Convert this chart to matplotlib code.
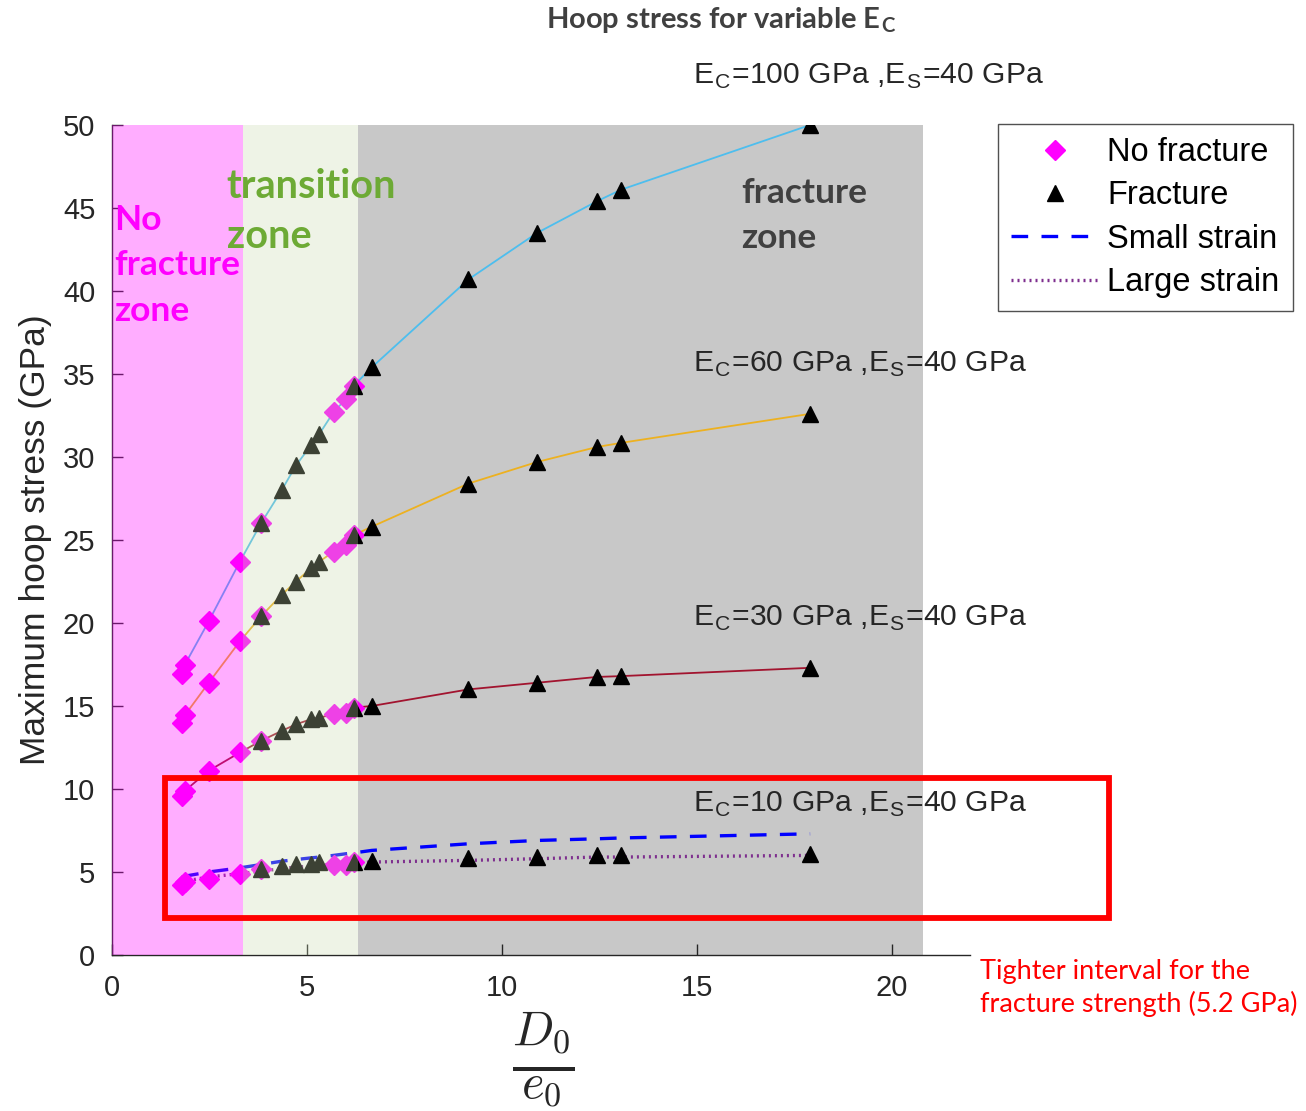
import matplotlib
matplotlib.use("Agg")
import matplotlib.pyplot as plt
from matplotlib.lines import Line2D
from matplotlib.patches import Rectangle

plt.rcParams['font.family'] = ['Liberation Sans', 'DejaVu Sans']
plt.rcParams['mathtext.fontset'] = 'cm'

# ---------------- data ----------------
x_ratio = [1.80, 1.87, 2.48, 3.28, 3.82, 4.35, 4.72, 5.10, 5.32, 5.68, 6.00,
           6.20, 6.66, 9.14, 10.90, 12.43, 13.05, 17.90]
# 0 = no fracture, 1 = fracture, 2 = both markers
fracture_flag = [0, 0, 0, 0, 2, 1, 1, 1, 1, 0, 0, 2, 1, 1, 1, 1, 1, 1]

stress_ec100 = [16.9, 17.5, 20.1, 23.7, 26.0, 28.0, 29.5, 30.7, 31.4, 32.7, 33.5,
                34.3, 35.4, 40.7, 43.5, 45.4, 46.1, 50.0]
stress_ec60 = [14.0, 14.45, 16.4, 18.9, 20.4, 21.7, 22.5, 23.3, 23.7, 24.3, 24.7,
               25.3, 25.8, 28.4, 29.7, 30.6, 30.85, 32.6]
stress_ec30 = [9.6, 9.9, 11.1, 12.2, 12.9, 13.5, 13.9, 14.2, 14.3, 14.5, 14.6,
               14.9, 15.0, 16.0, 16.4, 16.75, 16.8, 17.3]
stress_ec10 = [4.2, 4.4, 4.6, 4.9, 5.2, 5.35, 5.5, 5.5, 5.6, 5.4, 5.4,
               5.6, 5.65, 5.85, 5.9, 6.0, 6.0, 6.1]
small_strain_ec10 = [4.7, 4.75, 5.0, 5.25, 5.45, 5.65, 5.75, 5.85, 5.9, 6.0, 6.1,
                     6.15, 6.3, 6.7, 6.9, 7.0, 7.05, 7.3]
large_strain_ec10 = [4.4, 4.45, 4.7, 4.9, 5.05, 5.2, 5.3, 5.35, 5.4, 5.45, 5.5,
                     5.55, 5.6, 5.7, 5.8, 5.9, 5.9, 6.0]

series_labels = ['E$_\\mathregular{C}$=100 GPa ,E$_\\mathregular{S}$=40 GPa',
                 'E$_\\mathregular{C}$=60 GPa ,E$_\\mathregular{S}$=40 GPa',
                 'E$_\\mathregular{C}$=30 GPa ,E$_\\mathregular{S}$=40 GPa',
                 'E$_\\mathregular{C}$=10 GPa ,E$_\\mathregular{S}$=40 GPa']
label_y = [52.95, 35.6, 20.3, 9.1]

zone_edges = [0.0, 3.35, 6.3, 20.8]
legend_labels = ['No fracture', 'Fracture', 'Small strain', 'Large strain']

# ---------------- figure ----------------
W, H = 1306, 1111
fig = plt.figure(figsize=(W / 100, H / 100), dpi=100)
ax = fig.add_axes([112 / W, 1 - 955 / H, (970 - 112) / W, (955 - 125) / H])
ax.set_xlim(0, 22)
ax.set_ylim(0, 50)

# gray fracture zone (behind)
ax.add_patch(Rectangle((zone_edges[2], 0), zone_edges[3] - zone_edges[2], 50,
                       facecolor='#C8C8C8', edgecolor='none', zorder=0))

line_colors = ['#4DBEEE', '#EDB120', '#A2142F']
for ys, c in zip([stress_ec100, stress_ec60, stress_ec30], line_colors):
    ax.plot(x_ratio, ys, color=c, lw=1.3, zorder=2)

ax.plot(x_ratio, small_strain_ec10, color='#0000FF', lw=2.4, ls=(0, (5, 4)), zorder=2)
ax.plot(x_ratio, large_strain_ec10, color='#7E2F8E', lw=2.4, ls=(0, (0.6, 1.2)), zorder=2)

for ys in [stress_ec100, stress_ec60, stress_ec30, stress_ec10]:
    nx = [x for x, f in zip(x_ratio, fracture_flag) if f in (0, 2)]
    ny = [y for y, f in zip(ys, fracture_flag) if f in (0, 2)]
    fx = [x for x, f in zip(x_ratio, fracture_flag) if f in (1, 2)]
    fy = [y for y, f in zip(ys, fracture_flag) if f in (1, 2)]
    ax.plot(nx, ny, ls='none', marker='D', ms=10, color='#FF00FF', mec='#FF00FF', zorder=3)
    ax.plot(fx, fy, ls='none', marker='^', ms=12, color='black', mec='black', zorder=3)

# translucent zones on top
ax.add_patch(Rectangle((zone_edges[0], 0), zone_edges[1] - zone_edges[0], 50,
                       facecolor='#FF00FF', alpha=0.32, edgecolor='none', zorder=4,
                       clip_on=False))
ax.add_patch(Rectangle((zone_edges[1], 0), zone_edges[2] - zone_edges[1], 50,
                       facecolor='#C8D9AD', alpha=0.3, edgecolor='none', zorder=4))

# zone texts (one line each)
zfont = ['Lato', 'DejaVu Sans']
def ytxt(py):
    return (955 - py) / 16.6
def xtxt(px):
    return (px - 112) / 39.05

for txt, py in zip(['No', 'fracture', 'zone'], [220, 265, 311]):
    ax.text(xtxt(114), ytxt(py), txt, color='#FF00FF', fontsize=25.5, fontweight='bold',
            family=zfont, va='center', ha='left', zorder=6)
for txt, py in zip(['transition', 'zone'], [186, 237]):
    ax.text(xtxt(227), ytxt(py), txt, color='#6DAA35', fontsize=28.5, fontweight='bold',
            family=zfont, va='center', ha='left', zorder=6)
for txt, py in zip(['fracture', 'zone'], [193, 238]):
    ax.text(xtxt(742), ytxt(py), txt, color='#404040', fontsize=25.5, fontweight='bold',
            family=zfont, va='center', ha='left', zorder=6)

# series annotations
for lab, yy in zip(series_labels, label_y):
    ax.text(14.9, yy, lab, fontsize=21.7, color='#262626', ha='left', va='center',
            zorder=6, clip_on=False)

# red rectangle
ax.add_patch(Rectangle((1.36, 2.23), 25.56 - 1.36, 10.66 - 2.23, facecolor='none',
                       edgecolor='#FF0000', lw=4.2, zorder=7, clip_on=False))

# axes styling
for s in ['top', 'right']:
    ax.spines[s].set_visible(False)
for s in ['left', 'bottom']:
    ax.spines[s].set_color('#262626')
    ax.spines[s].set_linewidth(1.0)
ax.set_xticks([0, 5, 10, 15, 20])
ax.set_yticks(range(0, 51, 5))
ax.tick_params(direction='in', length=8, width=1, labelsize=21, colors='#262626')
ax.tick_params(axis='x', pad=14)
ax.tick_params(axis='y', pad=12)
ax.set_ylabel('Maximum hoop stress (GPa)', fontsize=25.5, color='#262626', labelpad=8)

# x label (fraction)
fig.text(543 / W, 1 - 1010 / H, r'$\frac{D_0}{e_0}$', fontsize=50, ha='center', va='top',
         color='#262626')

# title
fig.text(721 / W, 1 - 20 / H, 'Hoop stress for variable E$_\\mathregular{C}$', fontsize=21,
         fontweight='bold', family=zfont, color='#404040', ha='center', va='center')

# red note
fig.text(980 / W, 1 - 988 / H, 'Tighter interval for the\nfracture strength (5.2 GPa)',
         fontsize=19.5, family=zfont, color='#FF0000', ha='left', va='center', linespacing=1.3)

# legend
handles = [Line2D([], [], ls='none', marker='D', ms=10, color='#FF00FF'),
           Line2D([], [], ls='none', marker='^', ms=12, color='black'),
           Line2D([], [], color='#0000FF', lw=2.4, ls=(0, (5, 4))),
           Line2D([], [], color='#7E2F8E', lw=2.4, ls=(0, (0.6, 1.2)))]
leg = fig.legend(handles, legend_labels, loc='upper left',
                 bbox_to_anchor=(998 / W, 1 - 124 / H), fontsize=23.5, frameon=True,
                 fancybox=False, edgecolor='#262626', handlelength=2.7, handletextpad=0.25,
                 labelspacing=0.38, borderpad=0.4, borderaxespad=0)
leg.get_frame().set_linewidth(1.0)

fig.savefig('out.png', dpi=100)
